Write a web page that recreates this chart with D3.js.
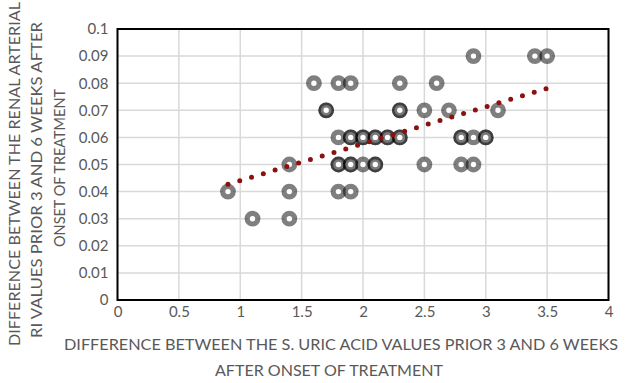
<!DOCTYPE html>
<html><head><meta charset="utf-8">
<script src="https://cdn.jsdelivr.net/npm/d3@7"></script>
<style>body{margin:0;background:#fff}svg{display:block}</style>
</head><body><svg id="c" width="630" height="383"></svg>
<script>
// ---- data ----
const xTicks = [0, 0.5, 1, 1.5, 2, 2.5, 3, 3.5, 4];
const yTicks = [0, 0.01, 0.02, 0.03, 0.04, 0.05, 0.06, 0.07, 0.08, 0.09, 0.1];
const xVals = [0.9, 1.1, 1.4, 1.4, 1.4, 1.6, 1.7, 1.7, 1.8, 1.8, 1.8, 1.8, 1.8,
  1.9, 1.9, 1.9, 1.9, 1.9, 1.9, 2.0, 2.0, 2.0, 2.1, 2.1, 2.1, 2.1, 2.2, 2.2,
  2.3, 2.3, 2.3, 2.3, 2.3, 2.5, 2.5, 2.6, 2.7, 2.8, 2.8, 2.8, 2.9, 2.9, 2.9,
  3.0, 3.0, 3.1, 3.4, 3.5];
const yVals = [0.04, 0.03, 0.05, 0.04, 0.03, 0.08, 0.07, 0.07, 0.08, 0.06, 0.05, 0.05, 0.04,
  0.08, 0.06, 0.06, 0.05, 0.05, 0.04, 0.06, 0.06, 0.05, 0.06, 0.06, 0.05, 0.05, 0.06, 0.06,
  0.08, 0.07, 0.07, 0.06, 0.06, 0.07, 0.05, 0.08, 0.07, 0.06, 0.06, 0.05, 0.09, 0.06, 0.05,
  0.06, 0.06, 0.07, 0.09, 0.09];
const trendX = [0.9, 3.5];
const trendY = [0.0427, 0.0781];
const xTitle = ["DIFFERENCE BETWEEN THE S. URIC ACID VALUES PRIOR 3 AND 6 WEEKS", "AFTER ONSET OF TREATMENT"];
const yTitle = ["DIFFERENCE BETWEEN THE RENAL ARTERIAL", "RI VALUES PRIOR 3 AND 6 WEEKS AFTER", "ONSET OF TREATMENT"];

// ---- layout ----
const FONT = "Lato, 'Liberation Sans', sans-serif";
const L = 117.5, R = 608.5, T = 29, B = 300;
const svg = d3.select("#c");
const x = d3.scaleLinear().domain([0, 4]).range([L, R]);
const y = d3.scaleLinear().domain([0, 0.1]).range([B, T]);

// gridlines
svg.append("g").selectAll("line").data(yTicks).join("line")
  .attr("x1", L).attr("x2", R).attr("y1", d => y(d)).attr("y2", d => y(d))
  .attr("stroke", "#d9d9d9").attr("stroke-width", 1.5);
svg.append("g").selectAll("line").data(xTicks).join("line")
  .attr("y1", T).attr("y2", B).attr("x1", d => x(d)).attr("x2", d => x(d))
  .attr("stroke", "#d9d9d9").attr("stroke-width", 1.5);

// axes labels
const yAxis = d3.axisLeft(y).tickValues(yTicks).tickSize(0).tickPadding(9)
  .tickFormat(d => String(+d.toFixed(2)));
const gy = svg.append("g").attr("transform", `translate(${L},0)`).call(yAxis);
gy.select(".domain").remove();
gy.selectAll("text").attr("font-family", FONT).attr("font-size", 15).attr("fill", "#595959");

const xAxis = d3.axisBottom(x).tickValues(xTicks).tickSize(0).tickPadding(6)
  .tickFormat(d => String(d));
const gx = svg.append("g").attr("transform", `translate(0,${B})`).call(xAxis);
gx.select(".domain").remove();
gx.selectAll("text").attr("font-family", FONT).attr("font-size", 15).attr("fill", "#595959");

// plot border
svg.append("rect").attr("x", L).attr("y", T).attr("width", R - L).attr("height", B - T)
  .attr("fill", "none").attr("stroke", "#000").attr("stroke-width", 2);

// points
const pts = xVals.map((v, i) => ({x: v, y: yVals[i]}));
svg.append("g").selectAll("circle").data(pts).join("circle")
  .attr("cx", d => x(d.x)).attr("cy", d => y(d.y)).attr("r", 5.3)
  .attr("fill", "#fff").attr("fill-opacity", 0.9)
  .attr("stroke", "#000").attr("stroke-opacity", 0.5).attr("stroke-width", 5.2);

// trendline
svg.append("line")
  .attr("x1", x(trendX[0])).attr("y1", y(trendY[0]))
  .attr("x2", x(trendX[1])).attr("y2", y(trendY[1]))
  .attr("stroke", "#8b1010").attr("stroke-width", 5)
  .attr("stroke-linecap", "round").attr("stroke-dasharray", "0 12.3");

// titles
const xt = svg.append("g").attr("font-family", FONT).attr("fill", "#595959").attr("font-size", 15.5);
const xtPos = [{cx: 341, cy: 345, len: 554}, {cx: 329, cy: 370.5, len: 228}];
xTitle.forEach((t, i) => {
  xt.append("text").attr("x", xtPos[i].cx - xtPos[i].len / 2).attr("y", xtPos[i].cy).attr("dy", "0.35em")
    .attr("textLength", xtPos[i].len).attr("lengthAdjust", "spacingAndGlyphs").text(t);
});
const yt = svg.append("g").attr("font-family", FONT).attr("fill", "#595959").attr("font-size", 15.5);
const ytPos = [{cx: 15, cy: 174, len: 344}, {cx: 37, cy: 180, len: 316}, {cx: 59.5, cy: 168, len: 158}];
yTitle.forEach((t, i) => {
  yt.append("text").attr("transform", `translate(${ytPos[i].cx},${ytPos[i].cy}) rotate(-90)`)
    .attr("x", -ytPos[i].len / 2).attr("dy", "0.35em")
    .attr("textLength", ytPos[i].len).attr("lengthAdjust", "spacingAndGlyphs").text(t);
});
</script></body></html>
